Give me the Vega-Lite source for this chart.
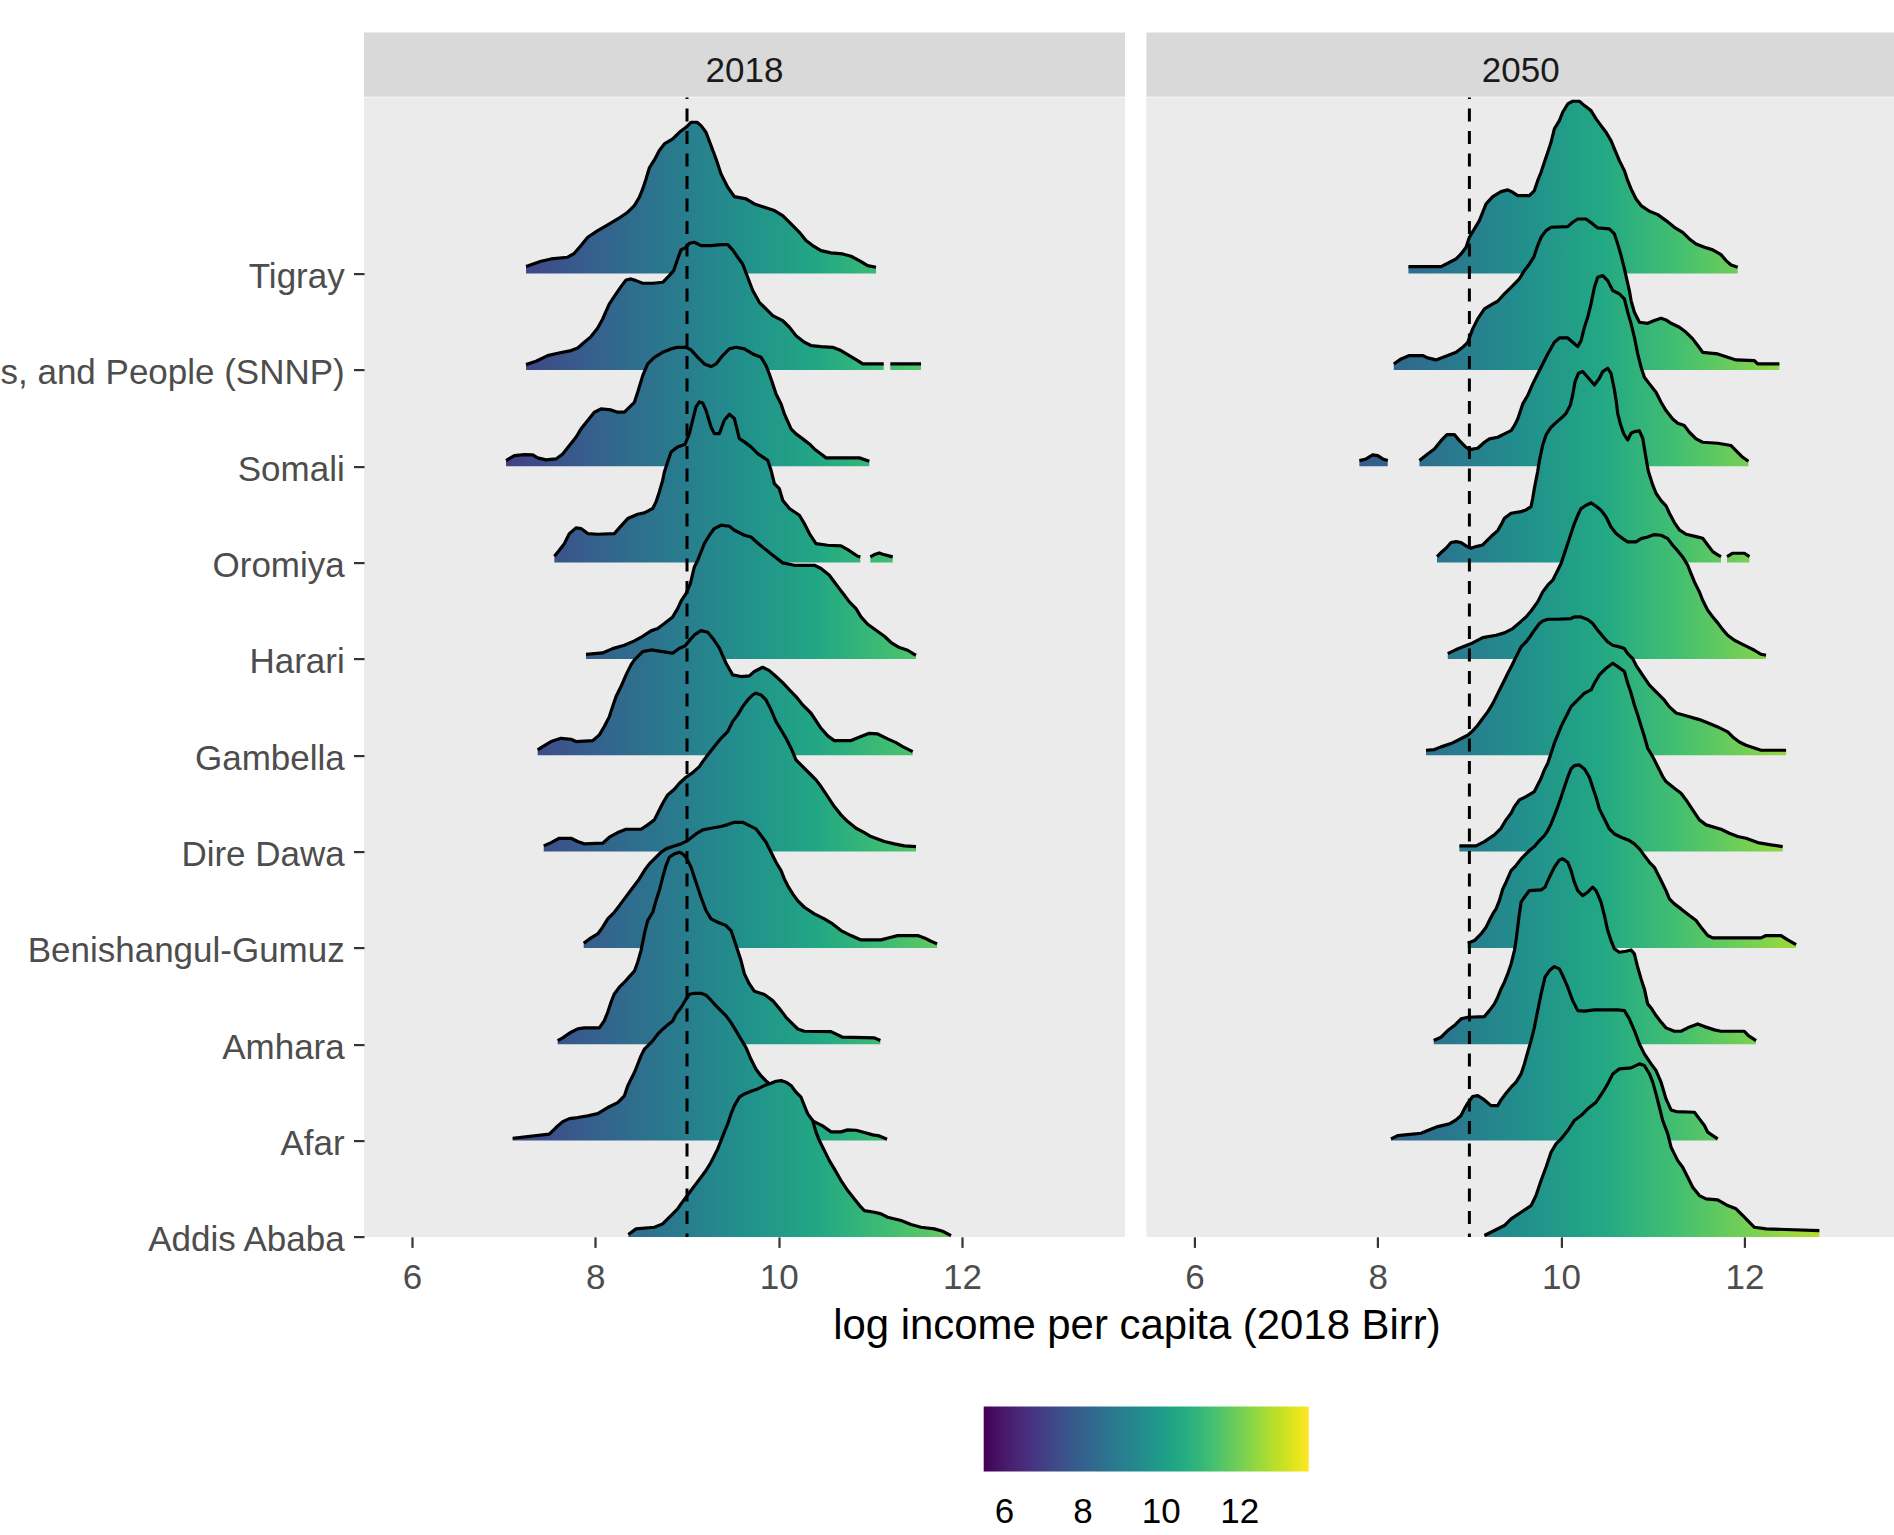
{
"$schema": "https://vega.github.io/schema/vega-lite/v6.json",
"background": "white",
"padding": {"left": -464, "top": 32.6, "right": 0, "bottom": 0},
"datasets": {
"Tigray_2018": [{"x":7.244,"y":11.073},{"x":7.408,"y":11.128},{"x":7.517,"y":11.152},{"x":7.698,"y":11.17},{"x":7.771,"y":11.211},{"x":7.844,"y":11.291},{"x":7.917,"y":11.377},{"x":8.026,"y":11.446},{"x":8.135,"y":11.505},{"x":8.244,"y":11.567},{"x":8.353,"y":11.637},{"x":8.426,"y":11.706},{"x":8.48,"y":11.792},{"x":8.517,"y":11.879},{"x":8.553,"y":11.983},{"x":8.589,"y":12.097},{"x":8.644,"y":12.18},{"x":8.698,"y":12.277},{"x":8.753,"y":12.346},{"x":8.844,"y":12.398},{"x":8.917,"y":12.467},{"x":8.989,"y":12.519},{"x":9.044,"y":12.571},{"x":9.109,"y":12.571},{"x":9.153,"y":12.536},{"x":9.207,"y":12.467},{"x":9.262,"y":12.329},{"x":9.317,"y":12.19},{"x":9.371,"y":12.035},{"x":9.444,"y":11.896},{"x":9.517,"y":11.799},{"x":9.644,"y":11.775},{"x":9.735,"y":11.723},{"x":9.844,"y":11.689},{"x":9.953,"y":11.654},{"x":10.044,"y":11.602},{"x":10.135,"y":11.516},{"x":10.226,"y":11.429},{"x":10.298,"y":11.343},{"x":10.371,"y":11.291},{"x":10.462,"y":11.239},{"x":10.571,"y":11.215},{"x":10.698,"y":11.204},{"x":10.789,"y":11.18},{"x":10.88,"y":11.135},{"x":10.971,"y":11.083},{"x":11.062,"y":11.066}],
"SNNP_2018": [{"x":7.244,"y":10.055},{"x":7.353,"y":10.09},{"x":7.48,"y":10.149},{"x":7.589,"y":10.173},{"x":7.735,"y":10.201},{"x":7.808,"y":10.228},{"x":7.88,"y":10.287},{"x":7.953,"y":10.346},{"x":8.026,"y":10.436},{"x":8.08,"y":10.529},{"x":8.153,"y":10.685},{"x":8.226,"y":10.789},{"x":8.28,"y":10.865},{"x":8.335,"y":10.934},{"x":8.389,"y":10.945},{"x":8.444,"y":10.927},{"x":8.517,"y":10.9},{"x":8.626,"y":10.9},{"x":8.735,"y":10.91},{"x":8.807,"y":10.979},{"x":8.855,"y":11.031},{"x":8.898,"y":11.152},{"x":8.935,"y":11.246},{"x":8.989,"y":11.273},{"x":9.026,"y":11.315},{"x":9.08,"y":11.325},{"x":9.153,"y":11.291},{"x":9.262,"y":11.291},{"x":9.371,"y":11.301},{"x":9.444,"y":11.301},{"x":9.498,"y":11.246},{"x":9.553,"y":11.17},{"x":9.607,"y":11.1},{"x":9.662,"y":10.962},{"x":9.717,"y":10.824},{"x":9.789,"y":10.702},{"x":9.862,"y":10.633},{"x":9.935,"y":10.564},{"x":10.044,"y":10.512},{"x":10.117,"y":10.443},{"x":10.189,"y":10.356},{"x":10.28,"y":10.287},{"x":10.353,"y":10.253},{"x":10.462,"y":10.242},{"x":10.589,"y":10.235},{"x":10.68,"y":10.201},{"x":10.771,"y":10.149},{"x":10.862,"y":10.097},{"x":10.917,"y":10.062},{"x":11.146,"y":10.062},{"x":11.18,"y":null},{"x":11.218,"y":10.062},{"x":11.553,"y":10.062}],
"Somali_2018": [{"x":7.026,"y":9.059},{"x":7.117,"y":9.111},{"x":7.226,"y":9.121},{"x":7.317,"y":9.118},{"x":7.371,"y":9.087},{"x":7.462,"y":9.066},{"x":7.571,"y":9.076},{"x":7.644,"y":9.128},{"x":7.717,"y":9.215},{"x":7.789,"y":9.301},{"x":7.844,"y":9.388},{"x":7.917,"y":9.474},{"x":7.989,"y":9.561},{"x":8.062,"y":9.595},{"x":8.171,"y":9.585},{"x":8.244,"y":9.561},{"x":8.317,"y":9.561},{"x":8.426,"y":9.664},{"x":8.462,"y":9.768},{"x":8.517,"y":9.941},{"x":8.571,"y":10.062},{"x":8.644,"y":10.131},{"x":8.735,"y":10.183},{"x":8.826,"y":10.218},{"x":8.898,"y":10.235},{"x":8.989,"y":10.235},{"x":9.044,"y":10.208},{"x":9.117,"y":10.131},{"x":9.189,"y":10.062},{"x":9.262,"y":10.035},{"x":9.317,"y":10.062},{"x":9.389,"y":10.149},{"x":9.462,"y":10.218},{"x":9.535,"y":10.235},{"x":9.626,"y":10.218},{"x":9.717,"y":10.166},{"x":9.808,"y":10.131},{"x":9.862,"y":10.045},{"x":9.898,"y":9.958},{"x":9.935,"y":9.855},{"x":9.971,"y":9.751},{"x":10.026,"y":9.647},{"x":10.062,"y":9.543},{"x":10.135,"y":9.388},{"x":10.189,"y":9.336},{"x":10.262,"y":9.284},{"x":10.335,"y":9.232},{"x":10.389,"y":9.18},{"x":10.462,"y":9.128},{"x":10.517,"y":9.087},{"x":10.88,"y":9.087},{"x":10.989,"y":9.052}],
"Oromiya_2018": [{"x":7.553,"y":8.066},{"x":7.607,"y":8.128},{"x":7.662,"y":8.197},{"x":7.717,"y":8.301},{"x":7.789,"y":8.36},{"x":7.844,"y":8.353},{"x":7.917,"y":8.301},{"x":8.026,"y":8.294},{"x":8.207,"y":8.301},{"x":8.262,"y":8.36},{"x":8.353,"y":8.457},{"x":8.462,"y":8.502},{"x":8.535,"y":8.516},{"x":8.626,"y":8.561},{"x":8.662,"y":8.63},{"x":8.698,"y":8.734},{"x":8.735,"y":8.855},{"x":8.753,"y":8.941},{"x":8.789,"y":9.045},{"x":8.826,"y":9.149},{"x":8.898,"y":9.201},{"x":8.978,"y":9.228},{"x":9.026,"y":9.339},{"x":9.062,"y":9.478},{"x":9.098,"y":9.616},{"x":9.135,"y":9.668},{"x":9.171,"y":9.657},{"x":9.207,"y":9.581},{"x":9.262,"y":9.408},{"x":9.298,"y":9.339},{"x":9.353,"y":9.339},{"x":9.407,"y":9.478},{"x":9.462,"y":9.54},{"x":9.517,"y":9.495},{"x":9.571,"y":9.287},{"x":9.626,"y":9.253},{"x":9.698,"y":9.201},{"x":9.771,"y":9.131},{"x":9.88,"y":9.062},{"x":9.917,"y":8.958},{"x":9.953,"y":8.82},{"x":10.007,"y":8.768},{"x":10.044,"y":8.647},{"x":10.117,"y":8.561},{"x":10.226,"y":8.491},{"x":10.28,"y":8.405},{"x":10.335,"y":8.301},{"x":10.407,"y":8.197},{"x":10.535,"y":8.18},{"x":10.68,"y":8.173},{"x":10.753,"y":8.135},{"x":10.862,"y":8.066},{"x":10.891,"y":8.059},{"x":10.95,"y":null},{"x":11.0,"y":8.059},{"x":11.044,"y":8.083},{"x":11.098,"y":8.1},{"x":11.135,"y":8.087},{"x":11.244,"y":8.059}],
"Harari_2018": [{"x":7.898,"y":7.048},{"x":8.08,"y":7.062},{"x":8.189,"y":7.107},{"x":8.317,"y":7.142},{"x":8.426,"y":7.187},{"x":8.517,"y":7.235},{"x":8.607,"y":7.291},{"x":8.68,"y":7.315},{"x":8.753,"y":7.367},{"x":8.844,"y":7.436},{"x":8.898,"y":7.522},{"x":8.935,"y":7.599},{"x":8.989,"y":7.678},{"x":9.037,"y":7.782},{"x":9.08,"y":7.955},{"x":9.117,"y":8.024},{"x":9.153,"y":8.111},{"x":9.189,"y":8.197},{"x":9.244,"y":8.284},{"x":9.298,"y":8.353},{"x":9.371,"y":8.388},{"x":9.462,"y":8.377},{"x":9.517,"y":8.336},{"x":9.626,"y":8.284},{"x":9.698,"y":8.266},{"x":9.771,"y":8.204},{"x":9.844,"y":8.145},{"x":9.935,"y":8.076},{"x":10.044,"y":7.997},{"x":10.171,"y":7.972},{"x":10.389,"y":7.972},{"x":10.462,"y":7.938},{"x":10.553,"y":7.869},{"x":10.607,"y":7.799},{"x":10.662,"y":7.73},{"x":10.717,"y":7.661},{"x":10.771,"y":7.592},{"x":10.844,"y":7.522},{"x":10.898,"y":7.436},{"x":10.971,"y":7.36},{"x":11.062,"y":7.298},{"x":11.153,"y":7.235},{"x":11.226,"y":7.17},{"x":11.317,"y":7.118},{"x":11.407,"y":7.09},{"x":11.48,"y":7.048},{"x":11.498,"y":7.038}],
"Gambella_2018": [{"x":7.371,"y":6.055},{"x":7.426,"y":6.09},{"x":7.517,"y":6.142},{"x":7.626,"y":6.176},{"x":7.735,"y":6.166},{"x":7.789,"y":6.142},{"x":7.971,"y":6.152},{"x":8.044,"y":6.211},{"x":8.098,"y":6.298},{"x":8.153,"y":6.401},{"x":8.189,"y":6.505},{"x":8.226,"y":6.609},{"x":8.28,"y":6.713},{"x":8.335,"y":6.834},{"x":8.389,"y":6.938},{"x":8.426,"y":6.99},{"x":8.462,"y":7.024},{"x":8.517,"y":7.076},{"x":8.607,"y":7.093},{"x":8.735,"y":7.076},{"x":8.844,"y":7.059},{"x":8.917,"y":7.111},{"x":8.978,"y":7.135},{"x":9.026,"y":7.19},{"x":9.08,"y":7.249},{"x":9.153,"y":7.294},{"x":9.226,"y":7.277},{"x":9.28,"y":7.215},{"x":9.353,"y":7.111},{"x":9.426,"y":6.955},{"x":9.498,"y":6.834},{"x":9.589,"y":6.817},{"x":9.68,"y":6.824},{"x":9.735,"y":6.869},{"x":9.826,"y":6.913},{"x":9.898,"y":6.879},{"x":9.971,"y":6.817},{"x":10.044,"y":6.754},{"x":10.117,"y":6.678},{"x":10.189,"y":6.609},{"x":10.262,"y":6.522},{"x":10.353,"y":6.436},{"x":10.462,"y":6.28},{"x":10.535,"y":6.201},{"x":10.607,"y":6.152},{"x":10.789,"y":6.152},{"x":10.898,"y":6.194},{"x":10.989,"y":6.228},{"x":11.08,"y":6.221},{"x":11.189,"y":6.17},{"x":11.28,"y":6.131},{"x":11.353,"y":6.09},{"x":11.462,"y":6.038}],
"DireDawa_2018": [{"x":7.437,"y":5.059},{"x":7.517,"y":5.093},{"x":7.607,"y":5.138},{"x":7.735,"y":5.138},{"x":7.807,"y":5.104},{"x":7.88,"y":5.08},{"x":8.08,"y":5.087},{"x":8.153,"y":5.149},{"x":8.244,"y":5.197},{"x":8.335,"y":5.232},{"x":8.498,"y":5.232},{"x":8.571,"y":5.277},{"x":8.644,"y":5.329},{"x":8.68,"y":5.398},{"x":8.735,"y":5.502},{"x":8.789,"y":5.588},{"x":8.862,"y":5.647},{"x":8.917,"y":5.709},{"x":8.989,"y":5.772},{"x":9.062,"y":5.82},{"x":9.135,"y":5.882},{"x":9.171,"y":5.934},{"x":9.226,"y":6.003},{"x":9.298,"y":6.09},{"x":9.371,"y":6.176},{"x":9.444,"y":6.246},{"x":9.498,"y":6.349},{"x":9.553,"y":6.419},{"x":9.607,"y":6.505},{"x":9.662,"y":6.574},{"x":9.717,"y":6.626},{"x":9.753,"y":6.644},{"x":9.808,"y":6.626},{"x":9.862,"y":6.574},{"x":9.917,"y":6.471},{"x":9.971,"y":6.349},{"x":10.026,"y":6.263},{"x":10.08,"y":6.176},{"x":10.135,"y":6.073},{"x":10.189,"y":5.952},{"x":10.262,"y":5.882},{"x":10.335,"y":5.813},{"x":10.407,"y":5.744},{"x":10.462,"y":5.675},{"x":10.535,"y":5.571},{"x":10.607,"y":5.467},{"x":10.68,"y":5.381},{"x":10.753,"y":5.311},{"x":10.844,"y":5.242},{"x":10.935,"y":5.197},{"x":11.007,"y":5.156},{"x":11.153,"y":5.104},{"x":11.262,"y":5.08},{"x":11.371,"y":5.059},{"x":11.498,"y":5.052}],
"Benishangul_2018": [{"x":7.873,"y":4.048},{"x":7.953,"y":4.104},{"x":8.026,"y":4.145},{"x":8.08,"y":4.215},{"x":8.135,"y":4.301},{"x":8.207,"y":4.37},{"x":8.262,"y":4.439},{"x":8.317,"y":4.509},{"x":8.371,"y":4.578},{"x":8.426,"y":4.647},{"x":8.48,"y":4.716},{"x":8.535,"y":4.803},{"x":8.589,"y":4.872},{"x":8.644,"y":4.924},{"x":8.717,"y":4.993},{"x":8.771,"y":5.028},{"x":8.844,"y":5.052},{"x":8.935,"y":5.08},{"x":9.007,"y":5.114},{"x":9.098,"y":5.183},{"x":9.171,"y":5.225},{"x":9.262,"y":5.242},{"x":9.371,"y":5.26},{"x":9.444,"y":5.28},{"x":9.517,"y":5.304},{"x":9.607,"y":5.304},{"x":9.68,"y":5.27},{"x":9.753,"y":5.235},{"x":9.808,"y":5.166},{"x":9.862,"y":5.097},{"x":9.917,"y":4.993},{"x":9.971,"y":4.889},{"x":10.026,"y":4.803},{"x":10.062,"y":4.716},{"x":10.098,"y":4.647},{"x":10.153,"y":4.561},{"x":10.207,"y":4.491},{"x":10.28,"y":4.422},{"x":10.389,"y":4.353},{"x":10.498,"y":4.301},{"x":10.589,"y":4.249},{"x":10.68,"y":4.18},{"x":10.789,"y":4.128},{"x":10.898,"y":4.083},{"x":11.117,"y":4.083},{"x":11.226,"y":4.111},{"x":11.298,"y":4.128},{"x":11.517,"y":4.128},{"x":11.589,"y":4.104},{"x":11.662,"y":4.069},{"x":11.728,"y":4.042}],
"Amhara_2018": [{"x":7.589,"y":3.038},{"x":7.644,"y":3.066},{"x":7.735,"y":3.125},{"x":7.807,"y":3.159},{"x":7.88,"y":3.17},{"x":8.044,"y":3.17},{"x":8.098,"y":3.246},{"x":8.135,"y":3.332},{"x":8.171,"y":3.436},{"x":8.207,"y":3.522},{"x":8.262,"y":3.592},{"x":8.317,"y":3.644},{"x":8.371,"y":3.702},{"x":8.426,"y":3.758},{"x":8.462,"y":3.851},{"x":8.498,"y":3.972},{"x":8.535,"y":4.145},{"x":8.571,"y":4.284},{"x":8.626,"y":4.37},{"x":8.662,"y":4.491},{"x":8.698,"y":4.595},{"x":8.735,"y":4.734},{"x":8.771,"y":4.855},{"x":8.807,"y":4.941},{"x":8.862,"y":4.976},{"x":8.917,"y":4.993},{"x":8.953,"y":4.976},{"x":8.989,"y":4.941},{"x":9.044,"y":4.837},{"x":9.098,"y":4.682},{"x":9.153,"y":4.526},{"x":9.207,"y":4.388},{"x":9.262,"y":4.301},{"x":9.335,"y":4.266},{"x":9.426,"y":4.232},{"x":9.48,"y":4.18},{"x":9.517,"y":4.076},{"x":9.553,"y":3.972},{"x":9.589,"y":3.869},{"x":9.626,"y":3.73},{"x":9.68,"y":3.626},{"x":9.735,"y":3.55},{"x":9.844,"y":3.516},{"x":9.935,"y":3.453},{"x":10.026,"y":3.349},{"x":10.08,"y":3.28},{"x":10.135,"y":3.228},{"x":10.207,"y":3.159},{"x":10.28,"y":3.135},{"x":10.571,"y":3.131},{"x":10.698,"y":3.073},{"x":11.044,"y":3.066},{"x":11.109,"y":3.038}],
"Afar_2018": [{"x":7.098,"y":2.024},{"x":7.498,"y":2.066},{"x":7.571,"y":2.135},{"x":7.644,"y":2.197},{"x":7.717,"y":2.228},{"x":7.807,"y":2.239},{"x":7.917,"y":2.256},{"x":8.026,"y":2.28},{"x":8.135,"y":2.343},{"x":8.244,"y":2.394},{"x":8.317,"y":2.464},{"x":8.353,"y":2.567},{"x":8.389,"y":2.637},{"x":8.426,"y":2.706},{"x":8.462,"y":2.792},{"x":8.498,"y":2.879},{"x":8.535,"y":2.948},{"x":8.571,"y":2.983},{"x":8.626,"y":3.035},{"x":8.68,"y":3.104},{"x":8.735,"y":3.156},{"x":8.789,"y":3.201},{"x":8.844,"y":3.242},{"x":8.88,"y":3.311},{"x":8.935,"y":3.381},{"x":8.989,"y":3.467},{"x":9.026,"y":3.519},{"x":9.08,"y":3.529},{"x":9.153,"y":3.529},{"x":9.207,"y":3.509},{"x":9.262,"y":3.457},{"x":9.317,"y":3.398},{"x":9.371,"y":3.346},{"x":9.426,"y":3.294},{"x":9.48,"y":3.225},{"x":9.535,"y":3.138},{"x":9.589,"y":3.052},{"x":9.644,"y":2.965},{"x":9.698,"y":2.844},{"x":9.753,"y":2.74},{"x":9.808,"y":2.671},{"x":9.862,"y":2.619},{"x":10.026,"y":2.498},{"x":10.171,"y":2.377},{"x":10.298,"y":2.266},{"x":10.371,"y":2.204},{"x":10.48,"y":2.152},{"x":10.571,"y":2.09},{"x":10.68,"y":2.09},{"x":10.753,"y":2.111},{"x":10.844,"y":2.107},{"x":10.935,"y":2.083},{"x":11.026,"y":2.059},{"x":11.098,"y":2.048},{"x":11.182,"y":2.014}],
"Addis_2018": [{"x":8.36,"y":1.024},{"x":8.444,"y":1.083},{"x":8.644,"y":1.1},{"x":8.735,"y":1.135},{"x":8.789,"y":1.187},{"x":8.844,"y":1.239},{"x":8.898,"y":1.291},{"x":8.935,"y":1.343},{"x":8.989,"y":1.412},{"x":9.044,"y":1.481},{"x":9.098,"y":1.55},{"x":9.153,"y":1.619},{"x":9.207,"y":1.689},{"x":9.262,"y":1.775},{"x":9.298,"y":1.844},{"x":9.335,"y":1.913},{"x":9.371,"y":2.0},{"x":9.407,"y":2.087},{"x":9.444,"y":2.173},{"x":9.48,"y":2.277},{"x":9.517,"y":2.363},{"x":9.571,"y":2.45},{"x":9.626,"y":2.484},{"x":9.698,"y":2.512},{"x":9.771,"y":2.536},{"x":9.844,"y":2.571},{"x":9.917,"y":2.595},{"x":9.971,"y":2.616},{"x":10.026,"y":2.623},{"x":10.08,"y":2.606},{"x":10.135,"y":2.571},{"x":10.189,"y":2.502},{"x":10.244,"y":2.45},{"x":10.28,"y":2.363},{"x":10.317,"y":2.277},{"x":10.371,"y":2.208},{"x":10.407,"y":2.087},{"x":10.444,"y":2.0},{"x":10.498,"y":1.896},{"x":10.553,"y":1.792},{"x":10.607,"y":1.706},{"x":10.68,"y":1.585},{"x":10.753,"y":1.481},{"x":10.826,"y":1.394},{"x":10.898,"y":1.308},{"x":10.935,"y":1.273},{"x":11.044,"y":1.256},{"x":11.117,"y":1.239},{"x":11.189,"y":1.204},{"x":11.335,"y":1.17},{"x":11.444,"y":1.128},{"x":11.553,"y":1.1},{"x":11.698,"y":1.083},{"x":11.789,"y":1.059},{"x":11.88,"y":1.014}],
"Tigray_2050": [{"x":8.335,"y":11.073},{"x":8.691,"y":11.073},{"x":8.764,"y":11.107},{"x":8.855,"y":11.152},{"x":8.909,"y":11.204},{"x":8.964,"y":11.273},{"x":9.0,"y":11.377},{"x":9.055,"y":11.464},{"x":9.109,"y":11.55},{"x":9.145,"y":11.637},{"x":9.182,"y":11.723},{"x":9.255,"y":11.799},{"x":9.345,"y":11.851},{"x":9.418,"y":11.869},{"x":9.473,"y":11.844},{"x":9.527,"y":11.81},{"x":9.655,"y":11.81},{"x":9.709,"y":11.862},{"x":9.745,"y":11.965},{"x":9.782,"y":12.052},{"x":9.818,"y":12.156},{"x":9.855,"y":12.26},{"x":9.891,"y":12.363},{"x":9.927,"y":12.502},{"x":9.982,"y":12.588},{"x":10.018,"y":12.675},{"x":10.073,"y":12.761},{"x":10.127,"y":12.789},{"x":10.2,"y":12.789},{"x":10.255,"y":12.744},{"x":10.327,"y":12.692},{"x":10.382,"y":12.606},{"x":10.436,"y":12.536},{"x":10.491,"y":12.467},{"x":10.545,"y":12.381},{"x":10.582,"y":12.294},{"x":10.636,"y":12.173},{"x":10.691,"y":12.069},{"x":10.727,"y":11.965},{"x":10.764,"y":11.879},{"x":10.818,"y":11.775},{"x":10.873,"y":11.706},{"x":10.964,"y":11.647},{"x":11.055,"y":11.612},{"x":11.145,"y":11.55},{"x":11.236,"y":11.481},{"x":11.327,"y":11.429},{"x":11.4,"y":11.36},{"x":11.473,"y":11.308},{"x":11.564,"y":11.273},{"x":11.655,"y":11.246},{"x":11.745,"y":11.197},{"x":11.8,"y":11.135},{"x":11.855,"y":11.09},{"x":11.927,"y":11.066}],
"SNNP_2050": [{"x":8.175,"y":10.062},{"x":8.255,"y":10.114},{"x":8.345,"y":10.149},{"x":8.491,"y":10.149},{"x":8.545,"y":10.125},{"x":8.636,"y":10.104},{"x":8.764,"y":10.149},{"x":8.855,"y":10.183},{"x":8.927,"y":10.235},{"x":8.982,"y":10.287},{"x":9.036,"y":10.426},{"x":9.091,"y":10.529},{"x":9.164,"y":10.633},{"x":9.255,"y":10.685},{"x":9.309,"y":10.713},{"x":9.382,"y":10.789},{"x":9.455,"y":10.858},{"x":9.545,"y":10.945},{"x":9.6,"y":11.031},{"x":9.655,"y":11.1},{"x":9.702,"y":11.17},{"x":9.745,"y":11.291},{"x":9.782,"y":11.377},{"x":9.836,"y":11.446},{"x":9.891,"y":11.481},{"x":10.073,"y":11.488},{"x":10.127,"y":11.533},{"x":10.182,"y":11.567},{"x":10.273,"y":11.567},{"x":10.345,"y":11.516},{"x":10.4,"y":11.474},{"x":10.527,"y":11.464},{"x":10.582,"y":11.412},{"x":10.618,"y":11.308},{"x":10.655,"y":11.187},{"x":10.691,"y":11.048},{"x":10.72,"y":10.927},{"x":10.745,"y":10.824},{"x":10.764,"y":10.72},{"x":10.8,"y":10.599},{"x":10.855,"y":10.495},{"x":10.945,"y":10.484},{"x":11.018,"y":10.512},{"x":11.091,"y":10.536},{"x":11.145,"y":10.519},{"x":11.2,"y":10.484},{"x":11.291,"y":10.443},{"x":11.364,"y":10.391},{"x":11.436,"y":10.322},{"x":11.491,"y":10.253},{"x":11.545,"y":10.183},{"x":11.709,"y":10.166},{"x":11.818,"y":10.131},{"x":11.909,"y":10.104},{"x":12.109,"y":10.097},{"x":12.145,"y":10.062},{"x":12.382,"y":10.062}],
"Somali_2050": [{"x":7.8,"y":9.059},{"x":7.873,"y":9.076},{"x":7.945,"y":9.118},{"x":8.0,"y":9.111},{"x":8.055,"y":9.076},{"x":8.109,"y":9.059},{"x":8.28,"y":null},{"x":8.455,"y":9.059},{"x":8.545,"y":9.128},{"x":8.618,"y":9.18},{"x":8.691,"y":9.266},{"x":8.756,"y":9.329},{"x":8.836,"y":9.329},{"x":8.891,"y":9.266},{"x":8.964,"y":9.197},{"x":9.0,"y":9.173},{"x":9.091,"y":9.187},{"x":9.164,"y":9.249},{"x":9.218,"y":9.284},{"x":9.309,"y":9.301},{"x":9.382,"y":9.336},{"x":9.455,"y":9.37},{"x":9.491,"y":9.422},{"x":9.527,"y":9.491},{"x":9.564,"y":9.595},{"x":9.582,"y":9.647},{"x":9.636,"y":9.734},{"x":9.691,"y":9.855},{"x":9.745,"y":9.958},{"x":9.8,"y":10.062},{"x":9.855,"y":10.166},{"x":9.927,"y":10.287},{"x":9.982,"y":10.332},{"x":10.073,"y":10.332},{"x":10.127,"y":10.287},{"x":10.182,"y":10.242},{"x":10.218,"y":10.304},{"x":10.255,"y":10.443},{"x":10.291,"y":10.547},{"x":10.327,"y":10.685},{"x":10.364,"y":10.858},{"x":10.4,"y":10.962},{"x":10.455,"y":10.979},{"x":10.509,"y":10.927},{"x":10.564,"y":10.824},{"x":10.636,"y":10.789},{"x":10.691,"y":10.737},{"x":10.727,"y":10.599},{"x":10.764,"y":10.478},{"x":10.8,"y":10.339},{"x":10.836,"y":10.166},{"x":10.873,"y":10.028},{"x":10.909,"y":9.924},{"x":10.964,"y":9.855},{"x":11.036,"y":9.768},{"x":11.091,"y":9.664},{"x":11.145,"y":9.578},{"x":11.218,"y":9.491},{"x":11.273,"y":9.446},{"x":11.345,"y":9.422},{"x":11.4,"y":9.353},{"x":11.473,"y":9.284},{"x":11.545,"y":9.249},{"x":11.709,"y":9.239},{"x":11.855,"y":9.215},{"x":11.927,"y":9.145},{"x":11.982,"y":9.093},{"x":12.044,"y":9.052}],
"Oromiya_2050": [{"x":8.647,"y":8.062},{"x":8.691,"y":8.104},{"x":8.745,"y":8.149},{"x":8.8,"y":8.208},{"x":8.855,"y":8.218},{"x":8.909,"y":8.208},{"x":8.964,"y":8.173},{"x":9.018,"y":8.149},{"x":9.073,"y":8.166},{"x":9.145,"y":8.183},{"x":9.2,"y":8.235},{"x":9.255,"y":8.287},{"x":9.309,"y":8.332},{"x":9.345,"y":8.391},{"x":9.382,"y":8.46},{"x":9.455,"y":8.512},{"x":9.564,"y":8.529},{"x":9.618,"y":8.547},{"x":9.673,"y":8.581},{"x":9.691,"y":8.668},{"x":9.709,"y":8.772},{"x":9.727,"y":8.858},{"x":9.745,"y":8.945},{"x":9.764,"y":9.059},{"x":9.8,"y":9.221},{"x":9.836,"y":9.325},{"x":9.891,"y":9.405},{"x":9.945,"y":9.453},{"x":10.0,"y":9.498},{"x":10.055,"y":9.55},{"x":10.102,"y":9.637},{"x":10.127,"y":9.74},{"x":10.153,"y":9.879},{"x":10.189,"y":9.965},{"x":10.236,"y":9.983},{"x":10.291,"y":9.924},{"x":10.364,"y":9.844},{"x":10.418,"y":9.913},{"x":10.455,"y":9.983},{"x":10.509,"y":10.017},{"x":10.545,"y":9.965},{"x":10.582,"y":9.792},{"x":10.6,"y":9.689},{"x":10.618,"y":9.55},{"x":10.647,"y":9.439},{"x":10.684,"y":9.336},{"x":10.727,"y":9.273},{"x":10.764,"y":9.343},{"x":10.8,"y":9.36},{"x":10.855,"y":9.367},{"x":10.891,"y":9.291},{"x":10.927,"y":9.083},{"x":10.953,"y":8.945},{"x":11.0,"y":8.806},{"x":11.036,"y":8.72},{"x":11.091,"y":8.644},{"x":11.145,"y":8.588},{"x":11.182,"y":8.512},{"x":11.236,"y":8.415},{"x":11.291,"y":8.339},{"x":11.364,"y":8.294},{"x":11.473,"y":8.27},{"x":11.545,"y":8.253},{"x":11.6,"y":8.183},{"x":11.655,"y":8.114},{"x":11.709,"y":8.08},{"x":11.745,"y":8.062},{"x":11.78,"y":null},{"x":11.811,"y":8.062},{"x":11.873,"y":8.097},{"x":12.0,"y":8.097},{"x":12.055,"y":8.062}],
"Harari_2050": [{"x":8.764,"y":7.055},{"x":8.855,"y":7.097},{"x":8.945,"y":7.131},{"x":9.036,"y":7.166},{"x":9.145,"y":7.221},{"x":9.291,"y":7.246},{"x":9.382,"y":7.27},{"x":9.473,"y":7.315},{"x":9.545,"y":7.374},{"x":9.618,"y":7.436},{"x":9.673,"y":7.498},{"x":9.745,"y":7.592},{"x":9.8,"y":7.696},{"x":9.855,"y":7.765},{"x":9.909,"y":7.817},{"x":9.964,"y":7.92},{"x":10.0,"y":7.99},{"x":10.036,"y":8.093},{"x":10.073,"y":8.197},{"x":10.109,"y":8.301},{"x":10.145,"y":8.405},{"x":10.182,"y":8.491},{"x":10.218,"y":8.561},{"x":10.273,"y":8.595},{"x":10.327,"y":8.619},{"x":10.382,"y":8.585},{"x":10.436,"y":8.543},{"x":10.491,"y":8.474},{"x":10.545,"y":8.37},{"x":10.6,"y":8.301},{"x":10.673,"y":8.249},{"x":10.727,"y":8.215},{"x":10.818,"y":8.215},{"x":10.873,"y":8.249},{"x":10.945,"y":8.266},{"x":11.018,"y":8.291},{"x":11.091,"y":8.284},{"x":11.164,"y":8.249},{"x":11.218,"y":8.18},{"x":11.273,"y":8.121},{"x":11.327,"y":8.059},{"x":11.382,"y":7.972},{"x":11.418,"y":7.886},{"x":11.455,"y":7.799},{"x":11.509,"y":7.696},{"x":11.545,"y":7.609},{"x":11.6,"y":7.505},{"x":11.655,"y":7.436},{"x":11.709,"y":7.374},{"x":11.764,"y":7.304},{"x":11.818,"y":7.246},{"x":11.891,"y":7.194},{"x":11.964,"y":7.159},{"x":12.036,"y":7.125},{"x":12.109,"y":7.09},{"x":12.182,"y":7.048},{"x":12.236,"y":7.038}],
"Gambella_2050": [{"x":8.527,"y":6.052},{"x":8.618,"y":6.059},{"x":8.691,"y":6.087},{"x":8.8,"y":6.121},{"x":8.891,"y":6.163},{"x":8.982,"y":6.208},{"x":9.036,"y":6.253},{"x":9.091,"y":6.311},{"x":9.145,"y":6.381},{"x":9.2,"y":6.45},{"x":9.255,"y":6.536},{"x":9.309,"y":6.64},{"x":9.345,"y":6.709},{"x":9.382,"y":6.779},{"x":9.418,"y":6.848},{"x":9.455,"y":6.917},{"x":9.491,"y":6.986},{"x":9.527,"y":7.055},{"x":9.564,"y":7.125},{"x":9.618,"y":7.176},{"x":9.673,"y":7.246},{"x":9.709,"y":7.298},{"x":9.764,"y":7.367},{"x":9.8,"y":7.394},{"x":9.855,"y":7.412},{"x":9.964,"y":7.412},{"x":10.109,"y":7.419},{"x":10.145,"y":7.436},{"x":10.218,"y":7.436},{"x":10.291,"y":7.408},{"x":10.345,"y":7.367},{"x":10.4,"y":7.298},{"x":10.455,"y":7.235},{"x":10.509,"y":7.176},{"x":10.564,"y":7.142},{"x":10.636,"y":7.125},{"x":10.691,"y":7.107},{"x":10.727,"y":7.055},{"x":10.782,"y":7.003},{"x":10.818,"y":6.934},{"x":10.855,"y":6.882},{"x":10.891,"y":6.83},{"x":10.927,"y":6.779},{"x":10.964,"y":6.727},{"x":11.018,"y":6.675},{"x":11.073,"y":6.623},{"x":11.127,"y":6.571},{"x":11.182,"y":6.502},{"x":11.255,"y":6.439},{"x":11.382,"y":6.405},{"x":11.509,"y":6.37},{"x":11.618,"y":6.329},{"x":11.709,"y":6.294},{"x":11.818,"y":6.242},{"x":11.873,"y":6.19},{"x":11.945,"y":6.138},{"x":12.018,"y":6.104},{"x":12.182,"y":6.052},{"x":12.455,"y":6.052}],
"DireDawa_2050": [{"x":8.891,"y":5.059},{"x":9.073,"y":5.059},{"x":9.164,"y":5.104},{"x":9.273,"y":5.173},{"x":9.345,"y":5.242},{"x":9.4,"y":5.329},{"x":9.455,"y":5.398},{"x":9.491,"y":5.467},{"x":9.545,"y":5.536},{"x":9.618,"y":5.571},{"x":9.709,"y":5.623},{"x":9.745,"y":5.692},{"x":9.782,"y":5.761},{"x":9.818,"y":5.848},{"x":9.855,"y":5.917},{"x":9.891,"y":6.021},{"x":9.927,"y":6.125},{"x":9.964,"y":6.211},{"x":10.0,"y":6.298},{"x":10.036,"y":6.367},{"x":10.073,"y":6.436},{"x":10.109,"y":6.505},{"x":10.182,"y":6.574},{"x":10.255,"y":6.644},{"x":10.327,"y":6.678},{"x":10.364,"y":6.747},{"x":10.418,"y":6.834},{"x":10.491,"y":6.903},{"x":10.564,"y":6.955},{"x":10.618,"y":6.92},{"x":10.691,"y":6.869},{"x":10.727,"y":6.747},{"x":10.764,"y":6.644},{"x":10.8,"y":6.522},{"x":10.836,"y":6.419},{"x":10.873,"y":6.304},{"x":10.909,"y":6.194},{"x":10.945,"y":6.073},{"x":11.0,"y":5.986},{"x":11.036,"y":5.917},{"x":11.109,"y":5.779},{"x":11.145,"y":5.727},{"x":11.236,"y":5.657},{"x":11.309,"y":5.606},{"x":11.364,"y":5.536},{"x":11.436,"y":5.433},{"x":11.509,"y":5.329},{"x":11.582,"y":5.277},{"x":11.745,"y":5.232},{"x":11.836,"y":5.19},{"x":11.927,"y":5.156},{"x":12.018,"y":5.138},{"x":12.145,"y":5.093},{"x":12.291,"y":5.069},{"x":12.418,"y":5.052}],
"Benishangul_2050": [{"x":8.982,"y":4.048},{"x":9.055,"y":4.076},{"x":9.127,"y":4.145},{"x":9.182,"y":4.215},{"x":9.218,"y":4.284},{"x":9.255,"y":4.353},{"x":9.291,"y":4.405},{"x":9.327,"y":4.491},{"x":9.364,"y":4.612},{"x":9.4,"y":4.682},{"x":9.455,"y":4.803},{"x":9.509,"y":4.855},{"x":9.564,"y":4.924},{"x":9.618,"y":4.976},{"x":9.655,"y":5.01},{"x":9.709,"y":5.052},{"x":9.764,"y":5.114},{"x":9.818,"y":5.166},{"x":9.855,"y":5.218},{"x":9.891,"y":5.287},{"x":9.927,"y":5.374},{"x":9.964,"y":5.467},{"x":10.0,"y":5.564},{"x":10.036,"y":5.668},{"x":10.073,"y":5.772},{"x":10.109,"y":5.858},{"x":10.145,"y":5.893},{"x":10.2,"y":5.9},{"x":10.255,"y":5.858},{"x":10.309,"y":5.772},{"x":10.345,"y":5.668},{"x":10.382,"y":5.564},{"x":10.418,"y":5.443},{"x":10.473,"y":5.339},{"x":10.527,"y":5.235},{"x":10.582,"y":5.183},{"x":10.655,"y":5.149},{"x":10.745,"y":5.114},{"x":10.8,"y":5.08},{"x":10.855,"y":5.028},{"x":10.909,"y":4.958},{"x":10.964,"y":4.889},{"x":11.018,"y":4.837},{"x":11.055,"y":4.768},{"x":11.091,"y":4.699},{"x":11.145,"y":4.595},{"x":11.182,"y":4.509},{"x":11.236,"y":4.457},{"x":11.309,"y":4.405},{"x":11.4,"y":4.336},{"x":11.473,"y":4.284},{"x":11.527,"y":4.215},{"x":11.6,"y":4.128},{"x":11.655,"y":4.104},{"x":12.182,"y":4.104},{"x":12.236,"y":4.128},{"x":12.4,"y":4.128},{"x":12.473,"y":4.083},{"x":12.564,"y":4.035}],
"Amhara_2050": [{"x":8.611,"y":3.038},{"x":8.691,"y":3.073},{"x":8.764,"y":3.142},{"x":8.836,"y":3.194},{"x":8.909,"y":3.263},{"x":8.982,"y":3.28},{"x":9.164,"y":3.287},{"x":9.218,"y":3.349},{"x":9.273,"y":3.419},{"x":9.309,"y":3.488},{"x":9.345,"y":3.574},{"x":9.382,"y":3.644},{"x":9.418,"y":3.73},{"x":9.455,"y":3.834},{"x":9.491,"y":3.972},{"x":9.509,"y":4.076},{"x":9.527,"y":4.215},{"x":9.545,"y":4.353},{"x":9.564,"y":4.474},{"x":9.6,"y":4.526},{"x":9.655,"y":4.595},{"x":9.782,"y":4.602},{"x":9.825,"y":4.63},{"x":9.873,"y":4.734},{"x":9.927,"y":4.837},{"x":9.982,"y":4.913},{"x":10.018,"y":4.924},{"x":10.073,"y":4.889},{"x":10.109,"y":4.803},{"x":10.145,"y":4.682},{"x":10.182,"y":4.595},{"x":10.236,"y":4.543},{"x":10.291,"y":4.578},{"x":10.345,"y":4.63},{"x":10.382,"y":4.595},{"x":10.436,"y":4.474},{"x":10.473,"y":4.336},{"x":10.509,"y":4.18},{"x":10.545,"y":4.076},{"x":10.582,"y":3.99},{"x":10.636,"y":3.955},{"x":10.709,"y":3.965},{"x":10.764,"y":3.979},{"x":10.8,"y":3.938},{"x":10.836,"y":3.799},{"x":10.873,"y":3.678},{"x":10.909,"y":3.574},{"x":10.945,"y":3.419},{"x":10.982,"y":3.377},{"x":11.036,"y":3.298},{"x":11.084,"y":3.239},{"x":11.145,"y":3.17},{"x":11.236,"y":3.135},{"x":11.309,"y":3.135},{"x":11.382,"y":3.17},{"x":11.491,"y":3.211},{"x":11.564,"y":3.183},{"x":11.673,"y":3.149},{"x":11.745,"y":3.135},{"x":11.999,"y":3.135},{"x":12.044,"y":3.09},{"x":12.127,"y":3.038}],
"Afar_2050": [{"x":8.145,"y":2.017},{"x":8.218,"y":2.052},{"x":8.327,"y":2.062},{"x":8.473,"y":2.076},{"x":8.545,"y":2.104},{"x":8.655,"y":2.145},{"x":8.782,"y":2.173},{"x":8.855,"y":2.215},{"x":8.909,"y":2.26},{"x":8.945,"y":2.329},{"x":8.982,"y":2.388},{"x":9.036,"y":2.457},{"x":9.091,"y":2.467},{"x":9.164,"y":2.422},{"x":9.236,"y":2.363},{"x":9.309,"y":2.363},{"x":9.345,"y":2.422},{"x":9.4,"y":2.491},{"x":9.455,"y":2.554},{"x":9.509,"y":2.606},{"x":9.564,"y":2.692},{"x":9.6,"y":2.796},{"x":9.636,"y":2.917},{"x":9.673,"y":3.038},{"x":9.709,"y":3.176},{"x":9.745,"y":3.349},{"x":9.782,"y":3.522},{"x":9.825,"y":3.696},{"x":9.873,"y":3.765},{"x":9.927,"y":3.806},{"x":9.982,"y":3.782},{"x":10.018,"y":3.713},{"x":10.073,"y":3.592},{"x":10.127,"y":3.453},{"x":10.182,"y":3.349},{"x":10.255,"y":3.343},{"x":10.364,"y":3.356},{"x":10.509,"y":3.356},{"x":10.618,"y":3.356},{"x":10.691,"y":3.349},{"x":10.745,"y":3.263},{"x":10.8,"y":3.142},{"x":10.855,"y":3.003},{"x":10.909,"y":2.9},{"x":10.982,"y":2.796},{"x":11.036,"y":2.727},{"x":11.091,"y":2.606},{"x":11.145,"y":2.433},{"x":11.2,"y":2.318},{"x":11.255,"y":2.301},{"x":11.455,"y":2.294},{"x":11.509,"y":2.225},{"x":11.564,"y":2.156},{"x":11.6,"y":2.087},{"x":11.655,"y":2.052},{"x":11.709,"y":2.017}],
"Addis_2050": [{"x":9.164,"y":1.014},{"x":9.273,"y":1.066},{"x":9.382,"y":1.118},{"x":9.455,"y":1.187},{"x":9.564,"y":1.256},{"x":9.673,"y":1.325},{"x":9.727,"y":1.429},{"x":9.782,"y":1.585},{"x":9.836,"y":1.723},{"x":9.891,"y":1.879},{"x":9.945,"y":1.965},{"x":10.0,"y":2.017},{"x":10.073,"y":2.104},{"x":10.145,"y":2.208},{"x":10.218,"y":2.26},{"x":10.291,"y":2.329},{"x":10.382,"y":2.398},{"x":10.455,"y":2.502},{"x":10.509,"y":2.588},{"x":10.564,"y":2.692},{"x":10.636,"y":2.744},{"x":10.764,"y":2.754},{"x":10.855,"y":2.796},{"x":10.909,"y":2.779},{"x":10.964,"y":2.692},{"x":11.0,"y":2.606},{"x":11.036,"y":2.484},{"x":11.073,"y":2.346},{"x":11.109,"y":2.208},{"x":11.164,"y":2.069},{"x":11.2,"y":1.931},{"x":11.236,"y":1.862},{"x":11.273,"y":1.792},{"x":11.327,"y":1.723},{"x":11.382,"y":1.619},{"x":11.436,"y":1.516},{"x":11.509,"y":1.429},{"x":11.582,"y":1.394},{"x":11.709,"y":1.384},{"x":11.818,"y":1.325},{"x":11.909,"y":1.291},{"x":12.0,"y":1.204},{"x":12.109,"y":1.1},{"x":12.236,"y":1.083},{"x":12.818,"y":1.066}],
"threshold": [{"v": 9}]
},
"columns": 2,
"spacing": {"row": 0, "column": 21.4},
"bounds": "flush",
"align": "each",
"resolve": {"scale": {"x": "independent", "y": "independent", "color": "independent"}},
"concat": [
{"width": 761, "height": 64.1, "view": {"fill": "#D9D9D9", "stroke": null}, "data": {"values": [{"yr": "2018"}]}, "mark": {"type": "text", "fontSize": 35, "color": "#1A1A1A", "font": "Liberation Sans", "baseline": "middle", "align": "center", "dy": 6}, "encoding": {"text": {"field": "yr"}}},
{"width": 748.6, "height": 64.1, "view": {"fill": "#D9D9D9", "stroke": null}, "data": {"values": [{"yr": "2050"}]}, "mark": {"type": "text", "fontSize": 35, "color": "#1A1A1A", "font": "Liberation Sans", "baseline": "middle", "align": "center", "dy": 6}, "encoding": {"text": {"field": "yr"}}},
{"width": 761, "height": 1139.3, "view": {"fill": "#EBEBEB", "stroke": null},
 "encoding": {
  "x": {"field": "x", "type": "quantitative", "scale": {"domain": [5.4764, 13.778], "nice": false, "zero": false}, "axis": {"values": [6, 8, 10, 12], "title": "log income per capita (2018 Birr)", "titleX": 772.4, "titleY": 102, "titleAlign": "center", "titleBaseline": "alphabetic", "titleFontSize": 41.9, "titleColor": "black", "titleFontWeight": "normal", "labelPadding": 12.7, "labelFlush": false}}
 },
 "layer": [
  {"data": {"name": "Tigray_2018"}, "mark": {"type": "area", "opacity": 1, "invalid": "break-paths-show-domains", "fill": {"gradient": "linear", "x1": -0.4646, "x2": 1.7067, "y1": 0, "y2": 0, "stops": [{"offset":0,"color":"#440154"},{"offset":0.1,"color":"#482576"},{"offset":0.2,"color":"#414487"},{"offset":0.3,"color":"#35608D"},{"offset":0.4,"color":"#2A788E"},{"offset":0.5,"color":"#21908C"},{"offset":0.6,"color":"#22A884"},{"offset":0.7,"color":"#43BF71"},{"offset":0.8,"color":"#7AD151"},{"offset":0.9,"color":"#BBDF27"},{"offset":1,"color":"#FDE725"}]}}, "encoding": {"y": {"field": "y", "type": "quantitative", "scale": {"domain": [1, 12.827], "nice": false, "zero": false}, "axis": {"values": [1, 2, 3, 4, 5, 6, 7, 8, 9, 10, 11], "title": null, "labelExpr": "['Addis Ababa','Afar','Amhara','Benishangul-Gumuz','Dire Dawa','Gambella','Harari','Oromiya','Somali','Southern Nations, Nationalities, and People (SNNP)','Tigray'][datum.value - 1]", "labelLimit": 3000, "labelPadding": 9.3, "labelOffset": 3}}, "y2": {"datum": 11}}},
  {"data": {"name": "Tigray_2018"}, "mark": {"type": "line", "color": "black", "strokeWidth": 3.2, "strokeJoin": "round", "invalid": "break-paths-show-domains"}, "encoding": {"y": {"field": "y", "type": "quantitative"}}},
  {"data": {"name": "SNNP_2018"}, "mark": {"type": "area", "opacity": 1, "invalid": "break-paths-show-domains", "fill": {"gradient": "linear", "x1": -0.4117, "x2": 1.5122, "y1": 0, "y2": 0, "stops": [{"offset":0,"color":"#440154"},{"offset":0.1,"color":"#482576"},{"offset":0.2,"color":"#414487"},{"offset":0.3,"color":"#35608D"},{"offset":0.4,"color":"#2A788E"},{"offset":0.5,"color":"#21908C"},{"offset":0.6,"color":"#22A884"},{"offset":0.7,"color":"#43BF71"},{"offset":0.8,"color":"#7AD151"},{"offset":0.9,"color":"#BBDF27"},{"offset":1,"color":"#FDE725"}]}}, "encoding": {"y": {"field": "y", "type": "quantitative"}, "y2": {"datum": 10}}},
  {"data": {"name": "SNNP_2018"}, "mark": {"type": "line", "color": "black", "strokeWidth": 3.2, "strokeJoin": "round", "invalid": "break-paths-show-domains"}, "encoding": {"y": {"field": "y", "type": "quantitative"}}},
  {"data": {"name": "Somali_2018"}, "mark": {"type": "area", "opacity": 1, "invalid": "break-paths-show-domains", "fill": {"gradient": "linear", "x1": -0.3926, "x2": 1.6992, "y1": 0, "y2": 0, "stops": [{"offset":0,"color":"#440154"},{"offset":0.1,"color":"#482576"},{"offset":0.2,"color":"#414487"},{"offset":0.3,"color":"#35608D"},{"offset":0.4,"color":"#2A788E"},{"offset":0.5,"color":"#21908C"},{"offset":0.6,"color":"#22A884"},{"offset":0.7,"color":"#43BF71"},{"offset":0.8,"color":"#7AD151"},{"offset":0.9,"color":"#BBDF27"},{"offset":1,"color":"#FDE725"}]}}, "encoding": {"y": {"field": "y", "type": "quantitative"}, "y2": {"datum": 9}}},
  {"data": {"name": "Somali_2018"}, "mark": {"type": "line", "color": "black", "strokeWidth": 3.2, "strokeJoin": "round", "invalid": "break-paths-show-domains"}, "encoding": {"y": {"field": "y", "type": "quantitative"}}},
  {"data": {"name": "Oromiya_2018"}, "mark": {"type": "area", "opacity": 1, "invalid": "break-paths-show-domains", "fill": {"gradient": "linear", "x1": -0.5643, "x2": 1.6817, "y1": 0, "y2": 0, "stops": [{"offset":0,"color":"#440154"},{"offset":0.1,"color":"#482576"},{"offset":0.2,"color":"#414487"},{"offset":0.3,"color":"#35608D"},{"offset":0.4,"color":"#2A788E"},{"offset":0.5,"color":"#21908C"},{"offset":0.6,"color":"#22A884"},{"offset":0.7,"color":"#43BF71"},{"offset":0.8,"color":"#7AD151"},{"offset":0.9,"color":"#BBDF27"},{"offset":1,"color":"#FDE725"}]}}, "encoding": {"y": {"field": "y", "type": "quantitative"}, "y2": {"datum": 8}}},
  {"data": {"name": "Oromiya_2018"}, "mark": {"type": "line", "color": "black", "strokeWidth": 3.2, "strokeJoin": "round", "invalid": "break-paths-show-domains"}, "encoding": {"y": {"field": "y", "type": "quantitative"}}},
  {"data": {"name": "Harari_2018"}, "mark": {"type": "area", "opacity": 1, "invalid": "break-paths-show-domains", "fill": {"gradient": "linear", "x1": -0.6744, "x2": 1.6283, "y1": 0, "y2": 0, "stops": [{"offset":0,"color":"#440154"},{"offset":0.1,"color":"#482576"},{"offset":0.2,"color":"#414487"},{"offset":0.3,"color":"#35608D"},{"offset":0.4,"color":"#2A788E"},{"offset":0.5,"color":"#21908C"},{"offset":0.6,"color":"#22A884"},{"offset":0.7,"color":"#43BF71"},{"offset":0.8,"color":"#7AD151"},{"offset":0.9,"color":"#BBDF27"},{"offset":1,"color":"#FDE725"}]}}, "encoding": {"y": {"field": "y", "type": "quantitative"}, "y2": {"datum": 7}}},
  {"data": {"name": "Harari_2018"}, "mark": {"type": "line", "color": "black", "strokeWidth": 3.2, "strokeJoin": "round", "invalid": "break-paths-show-domains"}, "encoding": {"y": {"field": "y", "type": "quantitative"}}},
  {"data": {"name": "Gambella_2018"}, "mark": {"type": "area", "opacity": 1, "invalid": "break-paths-show-domains", "fill": {"gradient": "linear", "x1": -0.4647, "x2": 1.5617, "y1": 0, "y2": 0, "stops": [{"offset":0,"color":"#440154"},{"offset":0.1,"color":"#482576"},{"offset":0.2,"color":"#414487"},{"offset":0.3,"color":"#35608D"},{"offset":0.4,"color":"#2A788E"},{"offset":0.5,"color":"#21908C"},{"offset":0.6,"color":"#22A884"},{"offset":0.7,"color":"#43BF71"},{"offset":0.8,"color":"#7AD151"},{"offset":0.9,"color":"#BBDF27"},{"offset":1,"color":"#FDE725"}]}}, "encoding": {"y": {"field": "y", "type": "quantitative"}, "y2": {"datum": 6}}},
  {"data": {"name": "Gambella_2018"}, "mark": {"type": "line", "color": "black", "strokeWidth": 3.2, "strokeJoin": "round", "invalid": "break-paths-show-domains"}, "encoding": {"y": {"field": "y", "type": "quantitative"}}},
  {"data": {"name": "DireDawa_2018"}, "mark": {"type": "area", "opacity": 1, "invalid": "break-paths-show-domains", "fill": {"gradient": "linear", "x1": -0.4844, "x2": 1.557, "y1": 0, "y2": 0, "stops": [{"offset":0,"color":"#440154"},{"offset":0.1,"color":"#482576"},{"offset":0.2,"color":"#414487"},{"offset":0.3,"color":"#35608D"},{"offset":0.4,"color":"#2A788E"},{"offset":0.5,"color":"#21908C"},{"offset":0.6,"color":"#22A884"},{"offset":0.7,"color":"#43BF71"},{"offset":0.8,"color":"#7AD151"},{"offset":0.9,"color":"#BBDF27"},{"offset":1,"color":"#FDE725"}]}}, "encoding": {"y": {"field": "y", "type": "quantitative"}, "y2": {"datum": 5}}},
  {"data": {"name": "DireDawa_2018"}, "mark": {"type": "line", "color": "black", "strokeWidth": 3.2, "strokeJoin": "round", "invalid": "break-paths-show-domains"}, "encoding": {"y": {"field": "y", "type": "quantitative"}}},
  {"data": {"name": "Benishangul_2018"}, "mark": {"type": "area", "opacity": 1, "invalid": "break-paths-show-domains", "fill": {"gradient": "linear", "x1": -0.6233, "x2": 1.5271, "y1": 0, "y2": 0, "stops": [{"offset":0,"color":"#440154"},{"offset":0.1,"color":"#482576"},{"offset":0.2,"color":"#414487"},{"offset":0.3,"color":"#35608D"},{"offset":0.4,"color":"#2A788E"},{"offset":0.5,"color":"#21908C"},{"offset":0.6,"color":"#22A884"},{"offset":0.7,"color":"#43BF71"},{"offset":0.8,"color":"#7AD151"},{"offset":0.9,"color":"#BBDF27"},{"offset":1,"color":"#FDE725"}]}}, "encoding": {"y": {"field": "y", "type": "quantitative"}, "y2": {"datum": 4}}},
  {"data": {"name": "Benishangul_2018"}, "mark": {"type": "line", "color": "black", "strokeWidth": 3.2, "strokeJoin": "round", "invalid": "break-paths-show-domains"}, "encoding": {"y": {"field": "y", "type": "quantitative"}}},
  {"data": {"name": "Amhara_2018"}, "mark": {"type": "area", "opacity": 1, "invalid": "break-paths-show-domains", "fill": {"gradient": "linear", "x1": -0.602, "x2": 1.7531, "y1": 0, "y2": 0, "stops": [{"offset":0,"color":"#440154"},{"offset":0.1,"color":"#482576"},{"offset":0.2,"color":"#414487"},{"offset":0.3,"color":"#35608D"},{"offset":0.4,"color":"#2A788E"},{"offset":0.5,"color":"#21908C"},{"offset":0.6,"color":"#22A884"},{"offset":0.7,"color":"#43BF71"},{"offset":0.8,"color":"#7AD151"},{"offset":0.9,"color":"#BBDF27"},{"offset":1,"color":"#FDE725"}]}}, "encoding": {"y": {"field": "y", "type": "quantitative"}, "y2": {"datum": 3}}},
  {"data": {"name": "Amhara_2018"}, "mark": {"type": "line", "color": "black", "strokeWidth": 3.2, "strokeJoin": "round", "invalid": "break-paths-show-domains"}, "encoding": {"y": {"field": "y", "type": "quantitative"}}},
  {"data": {"name": "Afar_2018"}, "mark": {"type": "area", "opacity": 1, "invalid": "break-paths-show-domains", "fill": {"gradient": "linear", "x1": -0.3986, "x2": 1.6312, "y1": 0, "y2": 0, "stops": [{"offset":0,"color":"#440154"},{"offset":0.1,"color":"#482576"},{"offset":0.2,"color":"#414487"},{"offset":0.3,"color":"#35608D"},{"offset":0.4,"color":"#2A788E"},{"offset":0.5,"color":"#21908C"},{"offset":0.6,"color":"#22A884"},{"offset":0.7,"color":"#43BF71"},{"offset":0.8,"color":"#7AD151"},{"offset":0.9,"color":"#BBDF27"},{"offset":1,"color":"#FDE725"}]}}, "encoding": {"y": {"field": "y", "type": "quantitative"}, "y2": {"datum": 2}}},
  {"data": {"name": "Afar_2018"}, "mark": {"type": "line", "color": "black", "strokeWidth": 3.2, "strokeJoin": "round", "invalid": "break-paths-show-domains"}, "encoding": {"y": {"field": "y", "type": "quantitative"}}},
  {"data": {"name": "Addis_2018"}, "mark": {"type": "area", "opacity": 1, "invalid": "break-paths-show-domains", "fill": {"gradient": "linear", "x1": -0.821, "x2": 1.5341, "y1": 0, "y2": 0, "stops": [{"offset":0,"color":"#440154"},{"offset":0.1,"color":"#482576"},{"offset":0.2,"color":"#414487"},{"offset":0.3,"color":"#35608D"},{"offset":0.4,"color":"#2A788E"},{"offset":0.5,"color":"#21908C"},{"offset":0.6,"color":"#22A884"},{"offset":0.7,"color":"#43BF71"},{"offset":0.8,"color":"#7AD151"},{"offset":0.9,"color":"#BBDF27"},{"offset":1,"color":"#FDE725"}]}}, "encoding": {"y": {"field": "y", "type": "quantitative"}, "y2": {"datum": 1}}},
  {"data": {"name": "Addis_2018"}, "mark": {"type": "line", "color": "black", "strokeWidth": 3.2, "strokeJoin": "round", "invalid": "break-paths-show-domains"}, "encoding": {"y": {"field": "y", "type": "quantitative"}}},
  {"data": {"name": "threshold"}, "mark": {"type": "rule", "color": "black", "strokeWidth": 3, "strokeDash": [13, 9.5], "strokeDashOffset": 11.5}, "encoding": {"x": {"field": "v", "type": "quantitative"}}},
  {"data": {"name": "Tigray_2018"}, "mark": {"type": "point", "opacity": 0}, "encoding": {"color": {"field": "x", "type": "quantitative", "scale": {"scheme": "viridis", "domain": [5.47, 13.76], "nice": false}, "legend": {"orient": "none", "legendX": 619.7, "legendY": 1309, "direction": "horizontal", "gradientLength": 325, "gradientThickness": 65, "title": null, "values": [6, 8, 10, 12], "labelFontSize": 35, "labelColor": "black", "labelFont": "Liberation Sans", "labelOffset": 23.5, "gradientStrokeWidth": 0}}}}
 ]
},
{"width": 748.6, "height": 1139.3, "view": {"fill": "#EBEBEB", "stroke": null},
 "encoding": {
  "x": {"field": "x", "type": "quantitative", "scale": {"domain": [5.4764, 13.643], "nice": false, "zero": false}, "axis": {"values": [6, 8, 10, 12], "title": null, "labelPadding": 12.7, "labelFlush": false}}
 },
 "layer": [
  {"data": {"name": "Tigray_2050"}, "mark": {"type": "area", "opacity": 1, "invalid": "break-paths-show-domains", "fill": {"gradient": "linear", "x1": -0.7976, "x2": 1.5103, "y1": 0, "y2": 0, "stops": [{"offset":0,"color":"#440154"},{"offset":0.1,"color":"#482576"},{"offset":0.2,"color":"#414487"},{"offset":0.3,"color":"#35608D"},{"offset":0.4,"color":"#2A788E"},{"offset":0.5,"color":"#21908C"},{"offset":0.6,"color":"#22A884"},{"offset":0.7,"color":"#43BF71"},{"offset":0.8,"color":"#7AD151"},{"offset":0.9,"color":"#BBDF27"},{"offset":1,"color":"#FDE725"}]}}, "encoding": {"y": {"field": "y", "type": "quantitative", "scale": {"domain": [1, 12.827], "nice": false, "zero": false}, "axis": null}, "y2": {"datum": 11}}},
  {"data": {"name": "Tigray_2050"}, "mark": {"type": "line", "color": "black", "strokeWidth": 3.2, "strokeJoin": "round", "invalid": "break-paths-show-domains"}, "encoding": {"y": {"field": "y", "type": "quantitative", "axis": null}}},
  {"data": {"name": "SNNP_2050"}, "mark": {"type": "area", "opacity": 1, "invalid": "break-paths-show-domains", "fill": {"gradient": "linear", "x1": -0.643, "x2": 1.3275, "y1": 0, "y2": 0, "stops": [{"offset":0,"color":"#440154"},{"offset":0.1,"color":"#482576"},{"offset":0.2,"color":"#414487"},{"offset":0.3,"color":"#35608D"},{"offset":0.4,"color":"#2A788E"},{"offset":0.5,"color":"#21908C"},{"offset":0.6,"color":"#22A884"},{"offset":0.7,"color":"#43BF71"},{"offset":0.8,"color":"#7AD151"},{"offset":0.9,"color":"#BBDF27"},{"offset":1,"color":"#FDE725"}]}}, "encoding": {"y": {"field": "y", "type": "quantitative", "axis": null}, "y2": {"datum": 10}}},
  {"data": {"name": "SNNP_2050"}, "mark": {"type": "line", "color": "black", "strokeWidth": 3.2, "strokeJoin": "round", "invalid": "break-paths-show-domains"}, "encoding": {"y": {"field": "y", "type": "quantitative", "axis": null}}},
  {"data": {"name": "Somali_2050"}, "mark": {"type": "area", "opacity": 1, "invalid": "break-paths-show-domains", "fill": {"gradient": "linear", "x1": -0.549, "x2": 1.4043, "y1": 0, "y2": 0, "stops": [{"offset":0,"color":"#440154"},{"offset":0.1,"color":"#482576"},{"offset":0.2,"color":"#414487"},{"offset":0.3,"color":"#35608D"},{"offset":0.4,"color":"#2A788E"},{"offset":0.5,"color":"#21908C"},{"offset":0.6,"color":"#22A884"},{"offset":0.7,"color":"#43BF71"},{"offset":0.8,"color":"#7AD151"},{"offset":0.9,"color":"#BBDF27"},{"offset":1,"color":"#FDE725"}]}}, "encoding": {"y": {"field": "y", "type": "quantitative", "axis": null}, "y2": {"datum": 9}}},
  {"data": {"name": "Somali_2050"}, "mark": {"type": "line", "color": "black", "strokeWidth": 3.2, "strokeJoin": "round", "invalid": "break-paths-show-domains"}, "encoding": {"y": {"field": "y", "type": "quantitative", "axis": null}}},
  {"data": {"name": "Oromiya_2050"}, "mark": {"type": "area", "opacity": 1, "invalid": "break-paths-show-domains", "fill": {"gradient": "linear", "x1": -0.9322, "x2": 1.5003, "y1": 0, "y2": 0, "stops": [{"offset":0,"color":"#440154"},{"offset":0.1,"color":"#482576"},{"offset":0.2,"color":"#414487"},{"offset":0.3,"color":"#35608D"},{"offset":0.4,"color":"#2A788E"},{"offset":0.5,"color":"#21908C"},{"offset":0.6,"color":"#22A884"},{"offset":0.7,"color":"#43BF71"},{"offset":0.8,"color":"#7AD151"},{"offset":0.9,"color":"#BBDF27"},{"offset":1,"color":"#FDE725"}]}}, "encoding": {"y": {"field": "y", "type": "quantitative", "axis": null}, "y2": {"datum": 8}}},
  {"data": {"name": "Oromiya_2050"}, "mark": {"type": "line", "color": "black", "strokeWidth": 3.2, "strokeJoin": "round", "invalid": "break-paths-show-domains"}, "encoding": {"y": {"field": "y", "type": "quantitative", "axis": null}}},
  {"data": {"name": "Harari_2050"}, "mark": {"type": "area", "opacity": 1, "invalid": "break-paths-show-domains", "fill": {"gradient": "linear", "x1": -0.9487, "x2": 1.4389, "y1": 0, "y2": 0, "stops": [{"offset":0,"color":"#440154"},{"offset":0.1,"color":"#482576"},{"offset":0.2,"color":"#414487"},{"offset":0.3,"color":"#35608D"},{"offset":0.4,"color":"#2A788E"},{"offset":0.5,"color":"#21908C"},{"offset":0.6,"color":"#22A884"},{"offset":0.7,"color":"#43BF71"},{"offset":0.8,"color":"#7AD151"},{"offset":0.9,"color":"#BBDF27"},{"offset":1,"color":"#FDE725"}]}}, "encoding": {"y": {"field": "y", "type": "quantitative", "axis": null}, "y2": {"datum": 7}}},
  {"data": {"name": "Harari_2050"}, "mark": {"type": "line", "color": "black", "strokeWidth": 3.2, "strokeJoin": "round", "invalid": "break-paths-show-domains"}, "encoding": {"y": {"field": "y", "type": "quantitative", "axis": null}}},
  {"data": {"name": "Gambella_2050"}, "mark": {"type": "area", "opacity": 1, "invalid": "break-paths-show-domains", "fill": {"gradient": "linear", "x1": -0.7782, "x2": 1.3322, "y1": 0, "y2": 0, "stops": [{"offset":0,"color":"#440154"},{"offset":0.1,"color":"#482576"},{"offset":0.2,"color":"#414487"},{"offset":0.3,"color":"#35608D"},{"offset":0.4,"color":"#2A788E"},{"offset":0.5,"color":"#21908C"},{"offset":0.6,"color":"#22A884"},{"offset":0.7,"color":"#43BF71"},{"offset":0.8,"color":"#7AD151"},{"offset":0.9,"color":"#BBDF27"},{"offset":1,"color":"#FDE725"}]}}, "encoding": {"y": {"field": "y", "type": "quantitative", "axis": null}, "y2": {"datum": 6}}},
  {"data": {"name": "Gambella_2050"}, "mark": {"type": "line", "color": "black", "strokeWidth": 3.2, "strokeJoin": "round", "invalid": "break-paths-show-domains"}, "encoding": {"y": {"field": "y", "type": "quantitative", "axis": null}}},
  {"data": {"name": "DireDawa_2050"}, "mark": {"type": "area", "opacity": 1, "invalid": "break-paths-show-domains", "fill": {"gradient": "linear", "x1": -0.9699, "x2": 1.3805, "y1": 0, "y2": 0, "stops": [{"offset":0,"color":"#440154"},{"offset":0.1,"color":"#482576"},{"offset":0.2,"color":"#414487"},{"offset":0.3,"color":"#35608D"},{"offset":0.4,"color":"#2A788E"},{"offset":0.5,"color":"#21908C"},{"offset":0.6,"color":"#22A884"},{"offset":0.7,"color":"#43BF71"},{"offset":0.8,"color":"#7AD151"},{"offset":0.9,"color":"#BBDF27"},{"offset":1,"color":"#FDE725"}]}}, "encoding": {"y": {"field": "y", "type": "quantitative", "axis": null}, "y2": {"datum": 5}}},
  {"data": {"name": "DireDawa_2050"}, "mark": {"type": "line", "color": "black", "strokeWidth": 3.2, "strokeJoin": "round", "invalid": "break-paths-show-domains"}, "encoding": {"y": {"field": "y", "type": "quantitative", "axis": null}}},
  {"data": {"name": "Benishangul_2050"}, "mark": {"type": "area", "opacity": 1, "invalid": "break-paths-show-domains", "fill": {"gradient": "linear", "x1": -0.9805, "x2": 1.3339, "y1": 0, "y2": 0, "stops": [{"offset":0,"color":"#440154"},{"offset":0.1,"color":"#482576"},{"offset":0.2,"color":"#414487"},{"offset":0.3,"color":"#35608D"},{"offset":0.4,"color":"#2A788E"},{"offset":0.5,"color":"#21908C"},{"offset":0.6,"color":"#22A884"},{"offset":0.7,"color":"#43BF71"},{"offset":0.8,"color":"#7AD151"},{"offset":0.9,"color":"#BBDF27"},{"offset":1,"color":"#FDE725"}]}}, "encoding": {"y": {"field": "y", "type": "quantitative", "axis": null}, "y2": {"datum": 4}}},
  {"data": {"name": "Benishangul_2050"}, "mark": {"type": "line", "color": "black", "strokeWidth": 3.2, "strokeJoin": "round", "invalid": "break-paths-show-domains"}, "encoding": {"y": {"field": "y", "type": "quantitative", "axis": null}}},
  {"data": {"name": "Amhara_2050"}, "mark": {"type": "area", "opacity": 1, "invalid": "break-paths-show-domains", "fill": {"gradient": "linear", "x1": -0.8933, "x2": 1.4645, "y1": 0, "y2": 0, "stops": [{"offset":0,"color":"#440154"},{"offset":0.1,"color":"#482576"},{"offset":0.2,"color":"#414487"},{"offset":0.3,"color":"#35608D"},{"offset":0.4,"color":"#2A788E"},{"offset":0.5,"color":"#21908C"},{"offset":0.6,"color":"#22A884"},{"offset":0.7,"color":"#43BF71"},{"offset":0.8,"color":"#7AD151"},{"offset":0.9,"color":"#BBDF27"},{"offset":1,"color":"#FDE725"}]}}, "encoding": {"y": {"field": "y", "type": "quantitative", "axis": null}, "y2": {"datum": 3}}},
  {"data": {"name": "Amhara_2050"}, "mark": {"type": "line", "color": "black", "strokeWidth": 3.2, "strokeJoin": "round", "invalid": "break-paths-show-domains"}, "encoding": {"y": {"field": "y", "type": "quantitative", "axis": null}}},
  {"data": {"name": "Afar_2050"}, "mark": {"type": "area", "opacity": 1, "invalid": "break-paths-show-domains", "fill": {"gradient": "linear", "x1": -0.7506, "x2": 1.5755, "y1": 0, "y2": 0, "stops": [{"offset":0,"color":"#440154"},{"offset":0.1,"color":"#482576"},{"offset":0.2,"color":"#414487"},{"offset":0.3,"color":"#35608D"},{"offset":0.4,"color":"#2A788E"},{"offset":0.5,"color":"#21908C"},{"offset":0.6,"color":"#22A884"},{"offset":0.7,"color":"#43BF71"},{"offset":0.8,"color":"#7AD151"},{"offset":0.9,"color":"#BBDF27"},{"offset":1,"color":"#FDE725"}]}}, "encoding": {"y": {"field": "y", "type": "quantitative", "axis": null}, "y2": {"datum": 2}}},
  {"data": {"name": "Afar_2050"}, "mark": {"type": "line", "color": "black", "strokeWidth": 3.2, "strokeJoin": "round", "invalid": "break-paths-show-domains"}, "encoding": {"y": {"field": "y", "type": "quantitative", "axis": null}}},
  {"data": {"name": "Addis_2050"}, "mark": {"type": "area", "opacity": 1, "invalid": "break-paths-show-domains", "fill": {"gradient": "linear", "x1": -1.0109, "x2": 1.2578, "y1": 0, "y2": 0, "stops": [{"offset":0,"color":"#440154"},{"offset":0.1,"color":"#482576"},{"offset":0.2,"color":"#414487"},{"offset":0.3,"color":"#35608D"},{"offset":0.4,"color":"#2A788E"},{"offset":0.5,"color":"#21908C"},{"offset":0.6,"color":"#22A884"},{"offset":0.7,"color":"#43BF71"},{"offset":0.8,"color":"#7AD151"},{"offset":0.9,"color":"#BBDF27"},{"offset":1,"color":"#FDE725"}]}}, "encoding": {"y": {"field": "y", "type": "quantitative", "axis": null}, "y2": {"datum": 1}}},
  {"data": {"name": "Addis_2050"}, "mark": {"type": "line", "color": "black", "strokeWidth": 3.2, "strokeJoin": "round", "invalid": "break-paths-show-domains"}, "encoding": {"y": {"field": "y", "type": "quantitative", "axis": null}}},
  {"data": {"name": "threshold"}, "mark": {"type": "rule", "color": "black", "strokeWidth": 3, "strokeDash": [13, 9.5], "strokeDashOffset": 11.5}, "encoding": {"x": {"field": "v", "type": "quantitative"}}}
 ]
}
],
"config": {
 "font": "Liberation Sans",
 "view": {"stroke": null},
 "axis": {"grid": false, "domain": false, "tickColor": "#333333", "tickWidth": 2.2, "tickSize": 10.5, "labelColor": "#4D4D4D", "labelFontSize": 35, "labelFont": "Liberation Sans", "titleFont": "Liberation Sans"},
 "legend": {"gradientHorizontalMaxLength": 400, "gradientHorizontalMinLength": 50, "labelFont": "Liberation Sans"}
}
}
